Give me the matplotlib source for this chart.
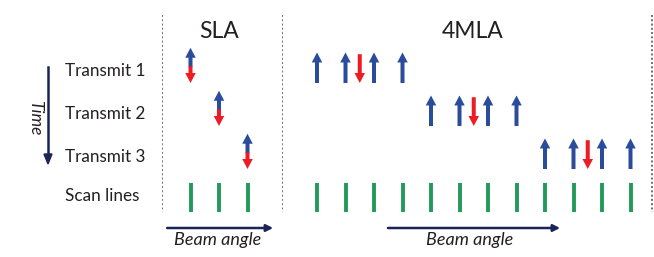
import matplotlib
matplotlib.use("Agg")
import matplotlib.pyplot as plt
from matplotlib import transforms

plt.rcParams['font.family'] = ['Lato', 'DejaVu Sans']

# rows (top to bottom) and their labels
row_labels = ["Transmit 1", "Transmit 2", "Transmit 3", "Scan lines"]
rows = [1, 2, 3, 4]

# SLA: one receive line per transmit, beam index of each transmit
sla_beams = [1, 2, 3]
sla_transmit_rows = [1, 2, 3]

# 4MLA: four receive lines per transmit
mla_beams = list(range(1, 13))
mla_transmit_rows = [1, 2, 3]
mla_receive = [[1, 2, 3, 4], [5, 6, 7, 8], [9, 10, 11, 12]]
mla_transmit_beam = [2.5, 6.5, 10.5]

BLUE = "#2b4b9b"
RED = "#ed1c24"
GREEN = "#239a5b"
NAVY = "#1b2456"
TXT = "#231f20"
GRID = "#6e6e6e"

W, H = 654, 257
fig = plt.figure(figsize=(W / 100, H / 100), dpi=100)

# one beam step = 28.5 px, one row step = 43 px
step_x, step_y = 28.5, 43.0
y_top, y_bot = -40 / step_y, (H - 40) / step_y


def make_ax(px0, px1, x_at_px0):
    ax = fig.add_axes([px0 / W, 0, (px1 - px0) / W, 1])
    ax.set_xlim(x_at_px0, x_at_px0 + (px1 - px0) / step_x)
    ax.set_ylim(y_bot, y_top)
    ax.axis("off")
    return ax


ax_sla = make_ax(162, 283, 0.0)
ax_mla = make_ax(283, 654, 1 - 34 / step_x)

aw = 4.0 / step_x      # shaft width
hw = 10.5 / step_x     # head width
hl = 10.0 / step_y     # head length


def arrow(ax, x, y0, y1, color):
    ax.arrow(x, y0, 0, y1 - y0, width=aw, head_width=hw, head_length=hl,
             length_includes_head=True, color=color, lw=0)


# SLA double arrows (blue up, red down)
for b, r in zip(sla_beams, sla_transmit_rows):
    mid = r - 0.37
    arrow(ax_sla, b, mid, r - 0.82, BLUE)
    arrow(ax_sla, b, mid - 0.02, r, RED)

# 4MLA: blue receive arrows, red transmit arrow
for r, rec, tb in zip(mla_transmit_rows, mla_receive, mla_transmit_beam):
    for b in rec:
        arrow(ax_mla, b, r, r - 0.71, BLUE)
    arrow(ax_mla, tb, r - 0.67, r, RED)

# scan lines
ax_sla.vlines(sla_beams, rows[3] - 0.67, rows[3], color=GREEN, lw=2.8)
ax_mla.vlines(mla_beams, rows[3] - 0.67, rows[3], color=GREEN, lw=2.8)

# dotted separators
y_d0, y_d1 = (15 - 40) / step_y, rows[3]
ax_sla.vlines([ax_sla.get_xlim()[0], ax_sla.get_xlim()[1]], y_d0, y_d1,
              color=GRID, lw=1.4, linestyles=(0, (1, 1.2)))
ax_mla.vlines([ax_mla.get_xlim()[1] - 2 / step_x], y_d0, y_d1,
              color=GRID, lw=1.4, linestyles=(0, (1, 1.2)))

# titles
ax_sla.text(2, -0.19, "SLA", ha="center", va="center", fontsize=16.5, color=TXT)
ax_mla.text(6.45, -0.19, "4MLA", ha="center", va="center", fontsize=16.5, color=TXT)

# beam angle arrows
ba_y = (228 - 40) / step_y
ax_sla.annotate("", xy=(3.9, ba_y), xytext=(0.18, ba_y),
                arrowprops=dict(arrowstyle="-|>", color=NAVY, lw=1.8,
                                mutation_scale=10, shrinkA=0, shrinkB=0))
ax_sla.text(1.95, (240 - 40) / step_y, "Beam angle", ha="center", va="center",
            fontsize=13, style="italic", color=TXT)
ax_mla.annotate("", xy=(9.53, ba_y), xytext=(3.49, ba_y),
                arrowprops=dict(arrowstyle="-|>", color=NAVY, lw=1.8,
                                mutation_scale=10, shrinkA=0, shrinkB=0))
ax_mla.text(6.37, (240 - 40) / step_y, "Beam angle", ha="center", va="center",
            fontsize=13, style="italic", color=TXT)

# row labels, left aligned in figure x
tr = transforms.blended_transform_factory(fig.transFigure, ax_sla.transData)
for lab, r in zip(row_labels, rows):
    off = 0.37 if r == 4 else 0.27
    ax_sla.text(65 / W, r - off, lab, transform=tr, ha="left", va="center",
                fontsize=12.3, color=TXT, clip_on=False)

# time arrow
fig.add_artist(plt.Line2D([48 / W, 48 / W], [1 - 67 / H, 1 - 156 / H],
                          color=NAVY, lw=1.8))
fig.patches.append(plt.Polygon([[44 / W, 1 - 154 / H], [52 / W, 1 - 154 / H],
                                [48 / W, 1 - 164 / H]], closed=True,
                               color=NAVY, transform=fig.transFigure))
fig.text(35 / W, 1 - 118 / H, "Time", rotation=270, ha="center", va="center",
         fontsize=12.5, style="italic", color=TXT)

fig.savefig("out.png", dpi=100)
